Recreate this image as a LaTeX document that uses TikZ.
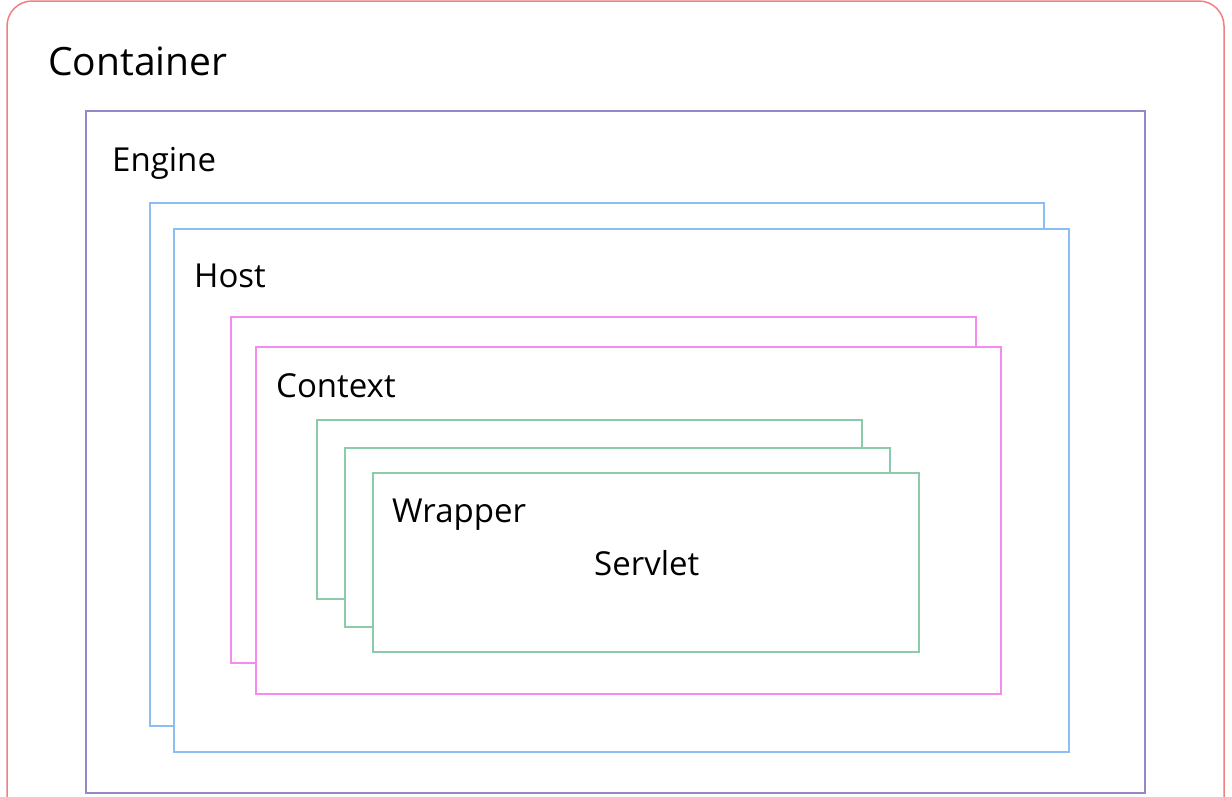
\documentclass[tikz,border=0pt]{standalone}
\usepackage{fontspec}
\setmainfont{Open Sans}
\definecolor{cred}{HTML}{F28080}
\definecolor{cpurple}{HTML}{9688C8}
\definecolor{cblue}{HTML}{8CBEF4}
\definecolor{cpink}{HTML}{F48CF0}
\definecolor{cgreen}{HTML}{8CCBA8}
\begin{document}
\begin{tikzpicture}[x=1pt,y=-1pt,
  frame/.style={draw=#1,line width=1.5pt,fill=white,rectangle,inner sep=0pt,outer sep=0pt,anchor=north west},
  lbl/.style={anchor=base west,inner sep=0pt,text=black,font=\fontsize{33}{40}\selectfont},
  biglbl/.style={anchor=base west,inner sep=0pt,text=black,font=\fontsize{39}{46}\selectfont}]
\useasboundingbox (0,0) rectangle (1232,796);
\fill[white] (0,0) rectangle (1232,796);
% Container
\draw[cred,line width=1.5pt,rounded corners=25pt] (7,800) -- (7,1) -- (1224,1) -- (1224,800);
\node[biglbl] (container) at (48,75) {Container};
% Engine
\node[frame=cpurple,minimum width=1059pt,minimum height=682pt] (engine) at (86,111) {};
\node[lbl] (enginelbl) at (112,171) {Engine};
% Host
\node[frame=cblue,minimum width=894pt,minimum height=523pt] (host1) at (150,203) {};
\node[frame=cblue,minimum width=895pt,minimum height=523pt] (host2) at (174,229) {};
\node[lbl] (hostlbl) at (194,287) {Host};
% Context
\node[frame=cpink,minimum width=745pt,minimum height=346pt] (ctx1) at (231,317) {};
\node[frame=cpink,minimum width=745pt,minimum height=347pt] (ctx2) at (256,347) {};
\node[lbl] (ctxlbl) at (276,397) {Context};
% Wrapper
\node[frame=cgreen,minimum width=545pt,minimum height=179pt] (wr1) at (317,420) {};
\node[frame=cgreen,minimum width=545pt,minimum height=179pt] (wr2) at (345,448) {};
\node[frame=cgreen,minimum width=546pt,minimum height=179pt] (wr3) at (373,473) {};
\node[lbl] (wrlbl) at (392,522) {Wrapper};
\node[lbl] (servlet) at (594,575) {Servlet};
\end{tikzpicture}
\end{document}
